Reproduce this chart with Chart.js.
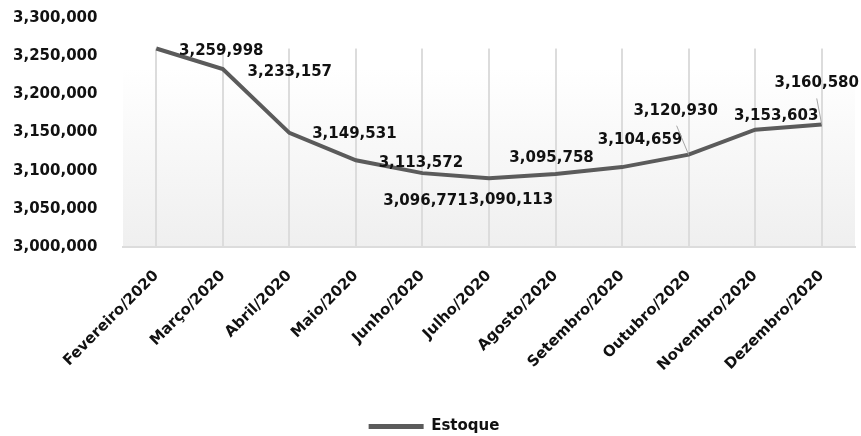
<!DOCTYPE html>
<html>
<head>
<meta charset="utf-8">
<script src="https://cdn.jsdelivr.net/npm/chart.js@4"></script>
<style>
  html, body { margin: 0; padding: 0; background: #fff; }
  #wrap { width: 861px; height: 436px; }
</style>
</head>
<body>
<div id="wrap"><canvas id="chart" width="861" height="436"></canvas></div>
<script>
// dados do gráfico
const meses = ['Fevereiro/2020', 'Março/2020', 'Abril/2020', 'Maio/2020', 'Junho/2020', 'Julho/2020',
    'Agosto/2020', 'Setembro/2020', 'Outubro/2020', 'Novembro/2020', 'Dezembro/2020'];
const estoque = [3259998, 3233157, 3149531, 3113572, 3096771, 3090113,
    3095758, 3104659, 3120930, 3153603, 3160580];
const yMin = 3000000;
const yMax = 3300000;
const yStep = 50000;

// posição dos rótulos em relação ao ponto (px)
const labelDx = [65, 67, 65, 65, 3, 22, -4, 18, -13, 21, -5];
const labelDy = [3, 3, 1, 3, 28, 22, -16, -27, -44, -14, -41];
const leader = [false, false, false, false, false, false, false, false, true, false, true];

const FONT = '"DejaVu Sans", sans-serif';
const LINE = '#5b5b5b';

function fmt(v) {
    return Number(v).toLocaleString('en-US');
}

// fundo degradê da área de plotagem (começa no ponto mais alto)
const plotBg = {
    id: 'plotBg',
    beforeDraw(chart) {
        const { ctx, chartArea: a } = chart;
        const top = chart.scales.y.getPixelForValue(Math.max(...estoque));
        const g = ctx.createLinearGradient(0, top, 0, a.bottom);
        g.addColorStop(0, '#ffffff');
        g.addColorStop(0.1, '#ffffff');
        g.addColorStop(1, '#efefef');
        ctx.save();
        ctx.fillStyle = g;
        ctx.fillRect(a.left, top, a.right - a.left, a.bottom - top);
        ctx.restore();
    },
    beforeDatasetsDraw(chart) {
        // esconde as linhas de grade acima da área de plotagem
        const { ctx, chartArea: a } = chart;
        const top = chart.scales.y.getPixelForValue(Math.max(...estoque));
        ctx.save();
        ctx.fillStyle = '#ffffff';
        ctx.fillRect(a.left - 2, a.top - 2, a.right - a.left + 4, top - a.top + 2);
        ctx.restore();
    }
};

// rótulos de dados
const dataLabels = {
    id: 'dataLabels',
    afterDatasetsDraw(chart) {
        const ctx = chart.ctx;
        const meta = chart.getDatasetMeta(0);
        ctx.save();
        ctx.font = 'bold 15px ' + FONT;
        ctx.fillStyle = '#111';
        ctx.textAlign = 'center';
        ctx.textBaseline = 'middle';
        meta.data.forEach((pt, i) => {
            const lx = pt.x + labelDx[i];
            const ly = pt.y + labelDy[i];
            if (leader[i]) {
                ctx.strokeStyle = '#a6a6a6';
                ctx.lineWidth = 1;
                ctx.beginPath();
                ctx.moveTo(lx + (i === 10 ? 0 : 1), ly + 15);
                ctx.lineTo(pt.x, pt.y);
                ctx.stroke();
            }
            ctx.fillText(fmt(estoque[i]), lx, ly);
        });
        ctx.restore();
    }
};

new Chart(document.getElementById('chart'), {
    type: 'line',
    data: {
        labels: meses,
        datasets: [{
            label: 'Estoque',
            data: estoque,
            borderColor: LINE,
            backgroundColor: LINE,
            borderWidth: 4,
            pointRadius: 0,
            tension: 0
        }]
    },
    options: {
        responsive: false,
        animation: false,
        layout: { padding: { top: 18, left: 13, right: 6, bottom: -8 } },
        plugins: {
            legend: {
                position: 'bottom',
                labels: {
                    boxWidth: 55,
                    boxHeight: 5,
                    padding: 2,
                    color: '#111',
                    font: { family: FONT, size: 15, weight: 'bold' },
                    generateLabels(chart) {
                        const items = Chart.defaults.plugins.legend.labels.generateLabels(chart);
                        items.forEach(it => { it.lineWidth = 0; it.fillStyle = LINE; });
                        return items;
                    }
                }
            },
            tooltip: { enabled: false }
        },
        scales: {
            x: {
                offset: true,
                grid: { color: '#dcdcdc', lineWidth: 2, offset: false, drawTicks: false },
                border: { color: '#dcdcdc', width: 2 },
                ticks: {
                    color: '#111',
                    minRotation: 45,
                    maxRotation: 45,
                    padding: 20,
                    font: { family: FONT, size: 15, weight: 'bold' }
                },
                afterFit(scale) { scale.height = 170; }
            },
            y: {
                min: yMin,
                max: yMax,
                grid: { display: false },
                border: { display: false },
                ticks: {
                    stepSize: yStep,
                    padding: 0,
                    crossAlign: 'far',
                    color: '#111',
                    font: { family: FONT, size: 15, weight: 'bold' },
                    callback: v => fmt(v)
                },
                afterFit(scale) { scale.width = 110; }
            }
        }
    },
    plugins: [plotBg, dataLabels]
});
</script>
</body>
</html>
